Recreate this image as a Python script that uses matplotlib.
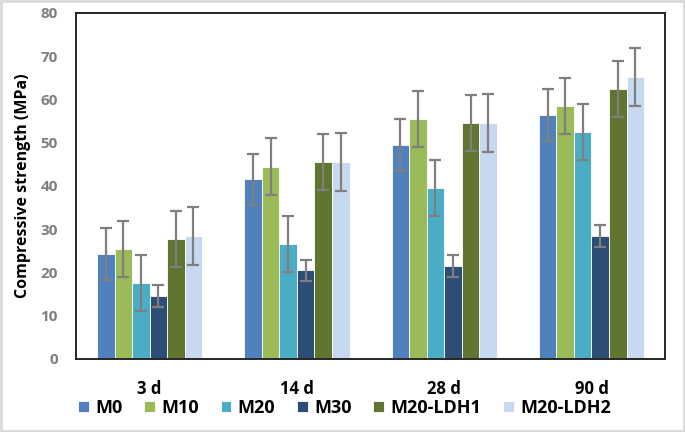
import numpy as np
import matplotlib
matplotlib.use("Agg")
import matplotlib.pyplot as plt
from matplotlib.patches import Rectangle

ages = ["3 d", "14 d", "28 d", "90 d"]
mixes = ["M0", "M10", "M20", "M30", "M20-LDH1", "M20-LDH2"]
strength = {
    "M0": [24.2, 41.5, 49.5, 56.5],
    "M10": [25.5, 44.5, 55.5, 58.5],
    "M20": [17.5, 26.5, 39.5, 52.5],
    "M30": [14.5, 20.5, 21.5, 28.5],
    "M20-LDH1": [27.7, 45.5, 54.5, 62.5],
    "M20-LDH2": [28.5, 45.5, 54.5, 65.2],
}
errors = {
    "M0": [6.0, 6.0, 6.0, 6.0],
    "M10": [6.5, 6.5, 6.5, 6.5],
    "M20": [6.5, 6.5, 6.5, 6.5],
    "M30": [2.5, 2.5, 2.5, 2.5],
    "M20-LDH1": [6.5, 6.5, 6.5, 6.5],
    "M20-LDH2": [6.7, 6.7, 6.7, 6.7],
}
colors = ["#4f81bd", "#9bbb59", "#4bacc6", "#2c4d75", "#5f7530", "#c6d9f1"]

plt.rcParams["font.family"] = ["Open Sans", "DejaVu Sans"]
plt.rcParams["font.weight"] = "bold"

fig = plt.figure(figsize=(6.85, 4.32), dpi=100)
ax = fig.add_axes([0.111, 0.169, 0.860, 0.801])

x = np.arange(len(ages))
width = 0.119
for i, mix in enumerate(mixes):
    offset = (i - 2.5) * width
    ax.bar(x + offset, strength[mix], width, color=colors[i], edgecolor="white",
           linewidth=0.6, label=mix,
           yerr=errors[mix], ecolor="#7f7f7f",
           error_kw=dict(elinewidth=1.6, capsize=4, capthick=1.6))

ax.set_xlim(-0.5, 3.5)
ax.set_ylim(0, 80)
ax.set_yticks(range(0, 81, 10))
ax.set_xticks(x)
ax.set_xticklabels(ages, fontsize=12, fontweight="bold", color="black")
ax.tick_params(axis="x", length=0, pad=15)
ax.tick_params(axis="y", length=0, pad=13, labelsize=11, labelcolor="#7f7f7f")
for lbl in ax.get_yticklabels():
    lbl.set_fontweight("bold")
ax.set_ylabel("Compressive strength (MPa)", fontsize=11.5, fontweight="bold", labelpad=7)
for side in ax.spines.values():
    side.set_color("#262626")
    side.set_linewidth(1.4)

fig.legend(loc="center", bbox_to_anchor=(0.503, 0.056), ncol=6, frameon=False,
           handlelength=0.6, handleheight=0.6, handletextpad=0.35,
           columnspacing=1.2, prop={"weight": "bold", "size": 13})

fig.add_artist(Rectangle((0.002, 0.003), 0.996, 0.994, transform=fig.transFigure,
                         fill=False, edgecolor="#d9d9d9", linewidth=2))

fig.savefig("out.png", dpi=100)
